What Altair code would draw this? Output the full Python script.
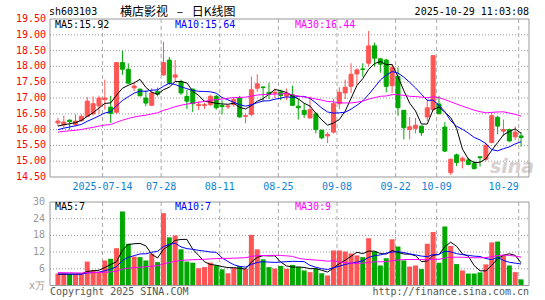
import altair as alt
import pandas as pd
import numpy as np

# ---------------- data ----------------
opens = [16.21, 16.15, 16.30, 16.16, 16.28, 16.42, 16.50, 16.75, 16.95, 16.71,
         16.55, 18.12, 17.91, 17.32, 17.28, 17.00, 16.77, 17.21, 17.73, 18.20,
         17.66, 17.52, 17.05, 17.28, 16.76, 16.76, 16.79, 17.05, 16.76, 16.72,
         16.79, 17.00, 16.42, 16.48, 17.31, 17.35, 17.18, 17.15, 17.19, 17.06,
         17.10, 16.74, 16.61, 16.37, 16.50, 15.98, 15.80, 15.92, 16.82, 17.16,
         17.37, 17.76, 17.92, 18.10, 18.65, 18.24, 18.20, 17.39, 17.68, 16.61,
         16.00, 16.04, 16.11, 16.40, 16.63, 16.81, 16.08, 14.64, 15.20, 15.01,
         15.04, 14.93, 15.14, 15.06, 15.59, 16.39, 15.95, 16.00, 15.77, 15.80]
highs = [16.37, 16.44, 16.32, 16.48, 16.48, 17.03, 17.05, 17.07, 17.58, 17.07,
         18.12, 18.50, 18.10, 17.49, 17.30, 17.24, 17.31, 17.33, 18.78, 18.30,
         18.20, 17.58, 17.26, 17.30, 16.90, 16.85, 17.10, 17.10, 16.93, 16.80,
         17.00, 17.07, 16.50, 17.68, 17.75, 17.36, 17.48, 17.30, 17.26, 17.30,
         17.39, 16.97, 16.84, 17.05, 16.55, 16.00, 15.92, 16.97, 17.34, 17.58,
         18.10, 17.94, 18.10, 19.12, 18.75, 18.26, 18.24, 18.05, 17.97, 16.62,
         16.40, 16.37, 16.12, 16.95, 18.34, 17.07, 16.24, 15.08, 15.24, 15.15,
         15.11, 15.01, 15.15, 15.59, 16.55, 16.44, 16.32, 16.03, 16.10, 15.92]
lows = [16.11, 16.06, 16.00, 16.12, 16.25, 16.40, 16.45, 16.50, 16.63, 16.21,
        16.50, 17.73, 17.45, 17.21, 17.05, 16.74, 16.74, 17.05, 17.70, 17.42,
        17.52, 17.10, 16.65, 16.55, 16.62, 16.65, 16.74, 16.63, 16.48, 16.65,
        16.72, 16.38, 16.20, 16.42, 17.20, 16.90, 16.97, 17.00, 16.93, 16.93,
        16.75, 16.32, 16.37, 16.34, 15.88, 15.69, 15.57, 15.88, 16.65, 16.97,
        17.16, 17.42, 17.68, 18.00, 18.00, 17.80, 17.18, 17.16, 16.44, 15.69,
        15.69, 15.88, 15.80, 16.27, 16.60, 16.50, 15.29, 14.56, 14.85, 14.77,
        14.87, 14.73, 14.83, 15.01, 15.57, 15.85, 15.80, 15.62, 15.67, 15.46]
closes = [16.27, 16.24, 16.25, 16.27, 16.42, 16.90, 16.82, 17.00, 17.00, 16.51,
          18.12, 17.91, 17.47, 17.38, 17.07, 16.84, 17.16, 17.12, 18.12, 17.47,
          17.73, 17.16, 16.90, 16.82, 16.80, 16.79, 17.05, 16.69, 16.73, 16.75,
          16.95, 16.40, 16.44, 17.26, 17.45, 17.33, 17.12, 17.18, 17.08, 17.15,
          16.77, 16.69, 16.48, 16.63, 16.00, 15.74, 15.85, 16.82, 17.18, 17.34,
          17.75, 17.89, 17.90, 18.65, 18.26, 18.07, 17.37, 17.97, 16.69, 16.06,
          16.09, 16.14, 15.90, 16.69, 18.34, 16.50, 15.32, 15.06, 14.96, 15.09,
          14.90, 14.77, 15.11, 15.51, 16.44, 16.11, 16.00, 15.64, 15.92, 15.75]
volumes = [4.3, 4.3, 4.1, 4.1, 4.1, 8.6, 5.6, 5.0, 9.0, 9.6,
           13.4, 26.6, 15.0, 10.4, 10.2, 9.0, 11.4, 8.4, 26.0, 17.3,
           18.0, 13.0, 8.6, 8.2, 6.2, 6.6, 8.2, 7.2, 5.8, 4.4,
           6.4, 7.0, 6.0, 18.2, 13.0, 9.4, 6.6, 6.1, 7.0, 6.0,
           7.4, 6.7, 5.4, 4.8, 6.0, 4.4, 3.6, 12.6, 12.6, 12.2,
           11.5, 10.8, 10.2, 17.0, 12.2, 7.2, 9.8, 16.6, 14.0, 9.0,
           6.8, 7.2, 5.9, 15.0, 19.2, 8.2, 21.2, 14.2, 7.7, 5.4,
           4.3, 4.3, 4.7, 7.6, 15.5, 15.8, 10.8, 7.2, 4.8, 2.2]
# sessions before the first visible candle (estimated from where the MA lines start)
prior_closes = [15.62, 15.70, 15.75, 15.68, 15.80, 15.85, 15.90, 15.96, 16.02, 15.98,
                15.92, 15.88, 15.95, 16.05, 16.10, 16.02, 15.96, 15.90, 15.85, 15.80,
                15.78, 15.85, 15.92, 15.98, 15.90, 16.02, 16.10, 16.08, 16.08]
prior_volumes = [5.5, 5.0, 4.8, 6.0, 5.2, 4.6, 4.4, 5.8, 6.2, 5.0,
                 4.5, 4.2, 4.8, 5.5, 5.0, 4.6, 4.3, 4.0, 4.5, 4.2,
                 3.9, 4.4, 4.8, 4.1, 3.8, 4.2, 4.0, 3.7, 3.9]

tick_labels = ["2025-07-14", "07-28", "08-11", "08-25", "09-08", "09-22", "10-09", "10-29"]
tick_index = [8, 18, 28, 38, 48, 58, 65, 79]
price_ticks = [14.5, 15.0, 15.5, 16.0, 16.5, 17.0, 17.5, 18.0, 18.5, 19.0, 19.5]
vol_ticks = [0, 6, 12, 18, 24, 30]
vol_tick_labels = ["x万", "6", "12", "18", "24", "30"]
price_legend = ["MA5:15.92", "MA10:15.64", "MA30:16.44"]
vol_legend = ["MA5:7", "MA10:7", "MA30:9"]
title_code = ["sh603103"]
title_name = ["横店影视\u2002\u00a0–\u2002\u00a0日K线图"]
title_time = ["2025-10-29 11:03:08"]
footer_left = ["Copyright 2025 SINA.COM"]
footer_right = ["http://finance.sina.com.cn"]
watermark = ["sina"]

# ---------------- styling ----------------
RED = "#ff5555"
GREEN = "#00a800"
MA_COLORS = ["#000000", "#0000ff", "#ff00ff"]
MONO = "DejaVu Sans Mono"
W, H = 479, 267
PH = 158                # price panel height
VT, VB = 183, 266.5     # volume panel top / bottom

n = len(closes)
df = pd.DataFrame({"i": np.arange(n), "open": opens, "high": highs, "low": lows,
                   "close": closes, "vol": volumes})
df["dir"] = np.where(df["close"] >= df["open"], "up", "down")

cs = pd.Series(prior_closes + closes)
vs = pd.Series(prior_volumes + volumes)
k = len(prior_closes)
ma_rows, vma_rows = [], []
for name, w in [("MA5", 5), ("MA10", 10), ("MA30", 30)]:
    m = cs.rolling(w).mean().iloc[k:].values
    vm = vs.rolling(w).mean().iloc[k:].values
    for i in range(n):
        ma_rows.append({"i": i, "ma": name, "v": m[i]})
        vma_rows.append({"i": i, "ma": name, "v": vm[i]})
ma_df = pd.DataFrame(ma_rows)
vma_df = pd.DataFrame(vma_rows)

x_scale = alt.Scale(domain=[-0.5, n - 0.5], nice=False, zero=False)
p_scale = alt.Scale(domain=[14.5, 19.5], range=[PH, 0], nice=False, zero=False)
v_scale = alt.Scale(domain=[0, 30], range=[VB, VT], nice=False)
X = alt.X("i:Q", scale=x_scale, axis=None)
dir_color = alt.Color("dir:N", scale=alt.Scale(domain=["up", "down"], range=[RED, GREEN]), legend=None)
dir_stroke = alt.Stroke("dir:N", scale=alt.Scale(domain=["up", "down"], range=[RED, GREEN]), legend=None)
ma_color = alt.Color("ma:N", scale=alt.Scale(domain=["MA5", "MA10", "MA30"], range=MA_COLORS), legend=None)

tick_df = pd.DataFrame({"gx": [t - 0.4 for t in tick_index], "label": tick_labels})
one = pd.DataFrame({"a": [0]})

layers = []
# grids
layers.append(alt.Chart(pd.DataFrame({"p": price_ticks[1:-1]})).mark_rule(color="#999999", strokeDash=[1, 2]).encode(
    y=alt.Y("p:Q", scale=p_scale, axis=None), x=alt.value(0), x2=alt.value(W)))
layers.append(alt.Chart(pd.DataFrame({"v": vol_ticks[1:-1]})).mark_rule(color="#999999", strokeDash=[1, 2]).encode(
    y=alt.Y("v:Q", scale=v_scale, axis=None), x=alt.value(0), x2=alt.value(W)))
layers.append(alt.Chart(tick_df).mark_rule(color="#aaaaaa", strokeDash=[4, 3]).encode(
    x=alt.X("gx:Q", scale=x_scale, axis=None), y=alt.value(0), y2=alt.value(PH)))
layers.append(alt.Chart(tick_df).mark_rule(color="#aaaaaa", strokeDash=[4, 3]).encode(
    x=alt.X("gx:Q", scale=x_scale, axis=None), y=alt.value(VT), y2=alt.value(VB)))
# watermark
layers.append(alt.Chart(pd.DataFrame({"t": watermark})).mark_text(
    font="DejaVu Sans", fontSize=19, fontStyle="italic", fontWeight="bold", color="#d8d0d0",
    align="center", baseline="middle").encode(text="t:N", x=alt.value(462), y=alt.value(148)))
# candles
layers.append(alt.Chart(df).mark_rule(strokeWidth=1).encode(
    x=X, y=alt.Y("low:Q", scale=p_scale, axis=None), y2="high:Q", color=dir_color))
layers.append(alt.Chart(df).mark_bar(size=4, strokeWidth=1).encode(
    x=X, y=alt.Y("open:Q", scale=p_scale, axis=None), y2="close:Q", color=dir_color, stroke=dir_stroke))
# price MAs
layers.append(alt.Chart(ma_df).mark_line(strokeWidth=1).encode(
    x=X, y=alt.Y("v:Q", scale=p_scale, axis=None), color=ma_color))
# volume bars
layers.append(alt.Chart(df).mark_bar(size=5).encode(
    x=X, y=alt.Y("vol:Q", scale=v_scale, axis=None), color=dir_color))
layers.append(alt.Chart(vma_df).mark_line(strokeWidth=1).encode(
    x=X, y=alt.Y("v:Q", scale=v_scale, axis=None), color=ma_color))
# frames
layers.append(alt.Chart(one).mark_rect(fillOpacity=0, stroke="#999999", strokeWidth=1).encode(
    x=alt.value(0), x2=alt.value(W), y=alt.value(0), y2=alt.value(PH)))
layers.append(alt.Chart(one).mark_rect(fillOpacity=0, stroke="#999999", strokeWidth=1).encode(
    x=alt.value(0), x2=alt.value(W), y=alt.value(VT), y2=alt.value(VB)))
# axis labels
layers.append(alt.Chart(pd.DataFrame({"p": price_ticks, "t": ["%.2f" % p for p in price_ticks]})).mark_text(
    align="right", baseline="middle", color="#ff0000", font=MONO, fontSize=10).encode(
    y=alt.Y("p:Q", scale=p_scale, axis=None), x=alt.value(-4), text="t:N"))
layers.append(alt.Chart(pd.DataFrame({"v": vol_ticks, "t": vol_tick_labels})).mark_text(
    align="right", baseline="middle", color="#999999", font=MONO, fontSize=10).encode(
    y=alt.Y("v:Q", scale=v_scale, axis=None), x=alt.value(-5), text="t:N"))
layers.append(alt.Chart(tick_df.iloc[:-1]).mark_text(
    align="center", baseline="middle", color="#0a84d6", font=MONO, fontSize=10).encode(
    x=alt.X("gx:Q", scale=x_scale, axis=None), y=alt.value(168), text="label:N"))
layers.append(alt.Chart(tick_df.iloc[-1:]).mark_text(
    align="right", baseline="middle", color="#0a84d6", font=MONO, fontSize=10).encode(
    x=alt.X("gx:Q", scale=x_scale, axis=None), y=alt.value(168), text="label:N"))
# legends
for txt, xpos, col in zip(price_legend, [5, 125, 245], MA_COLORS):
    layers.append(alt.Chart(pd.DataFrame({"t": [txt]})).mark_text(
        align="left", baseline="middle", color=col, font=MONO, fontSize=10).encode(
        text="t:N", x=alt.value(xpos), y=alt.value(5.5)))
for txt, xpos, col in zip(vol_legend, [5, 125, 245], MA_COLORS):
    layers.append(alt.Chart(pd.DataFrame({"t": [txt]})).mark_text(
        align="left", baseline="middle", color=col, font=MONO, fontSize=10).encode(
        text="t:N", x=alt.value(xpos), y=alt.value(VT + 5)))
# titles / footers
layers.append(alt.Chart(pd.DataFrame({"t": title_code})).mark_text(
    align="left", baseline="middle", color="#000000", font=MONO, fontSize=10).encode(
    text="t:N", x=alt.value(-1), y=alt.value(-7)))
layers.append(alt.Chart(pd.DataFrame({"t": title_name})).mark_text(
    align="left", baseline="middle", color="#000000", font="Noto Sans CJK SC", fontSize=12).encode(
    text="t:N", x=alt.value(70), y=alt.value(-7)))
layers.append(alt.Chart(pd.DataFrame({"t": title_time})).mark_text(
    align="right", baseline="middle", color="#000000", font=MONO, fontSize=10).encode(
    text="t:N", x=alt.value(W), y=alt.value(-7)))
layers.append(alt.Chart(pd.DataFrame({"t": footer_left})).mark_text(
    align="left", baseline="middle", color="#555555", font=MONO, fontSize=10).encode(
    text="t:N", x=alt.value(0), y=alt.value(273)))
layers.append(alt.Chart(pd.DataFrame({"t": footer_right})).mark_text(
    align="right", baseline="middle", color="#555555", font=MONO, fontSize=10).encode(
    text="t:N", x=alt.value(W), y=alt.value(273)))

chart = alt.layer(*layers).resolve_scale(
    y="independent", color="independent", stroke="independent"
).properties(
    width=W, height=H,
    padding={"left": 50, "top": 19, "right": 16, "bottom": 14},
    autosize=alt.AutoSizeParams(type="none"),
    background="white",
).configure_view(strokeWidth=0)

chart.save("out.html", embed_options={"renderer": "svg", "actions": False})
